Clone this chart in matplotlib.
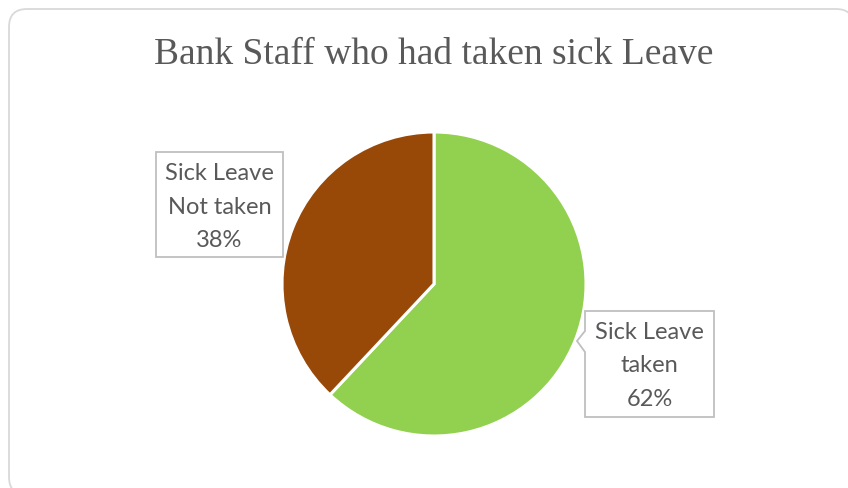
import matplotlib
matplotlib.use("Agg")
import matplotlib.pyplot as plt
from matplotlib.patches import FancyBboxPatch, Polygon

title = "Bank Staff who had taken sick Leave"
categories = ["Sick Leave\ntaken", "Sick Leave\nNot taken"]
shares = [62, 38]
colors = ["#92D050", "#984807"]

W, H = 848, 489
fig = plt.figure(figsize=(W / 100, H / 100), dpi=100)
fig.patch.set_facecolor("white")

# rounded chart-area frame, kept behind the pie (runs past the right/bottom edge)
frame = FancyBboxPatch((9, -7), 845, 486,
                       boxstyle="round,pad=0,rounding_size=18",
                       transform=None, facecolor="white",
                       edgecolor="#D9D9D9", linewidth=1.3, zorder=-5)
fig.patches.append(frame)

# pie axes: centre (434, 285), radius 152 in pixel units
cx, cy, r = 434, 285, 152
ax = fig.add_axes([(cx - r) / W, (H - cy - r) / H, 2 * r / W, 2 * r / H])
ax.set_zorder(2)
ax.patch.set_alpha(0)
ax.pie(shares, colors=colors, startangle=90, counterclock=False,
       wedgeprops=dict(edgecolor="white", linewidth=2.2))
ax.set_xlim(-1.0, 1.0)
ax.set_ylim(-1.0, 1.0)
ax.set_aspect("equal")
ax.axis("off")

fig.text(434 / W, 1 - 55 / H, title, ha="center", va="center",
         fontsize=27, color="#595959", family="Liberation Serif")

# callout boxes (pixel coords, y measured from top)
def box(points):
    pts = [(x, H - y) for x, y in points]
    fig.patches.append(Polygon(pts, closed=True, transform=None,
                               facecolor="white", edgecolor="#BFBFBF",
                               linewidth=1.3, zorder=3))

box([(156, 153), (283, 153), (283, 258), (156, 258)])
box([(585, 312), (714, 312), (714, 418), (585, 418),
     (585, 353), (577, 342), (585, 332)])

label_pos = [(649.5, 366), (219.5, 207)]
for (x, y), name, val in zip(label_pos, categories, shares):
    fig.text(x / W, 1 - y / H, f"{name}\n{val}%", ha="center", va="center",
             fontsize=17, color="#595959", family="Lato",
             linespacing=1.72, zorder=4)

fig.savefig("out.png", dpi=100, facecolor="white")
